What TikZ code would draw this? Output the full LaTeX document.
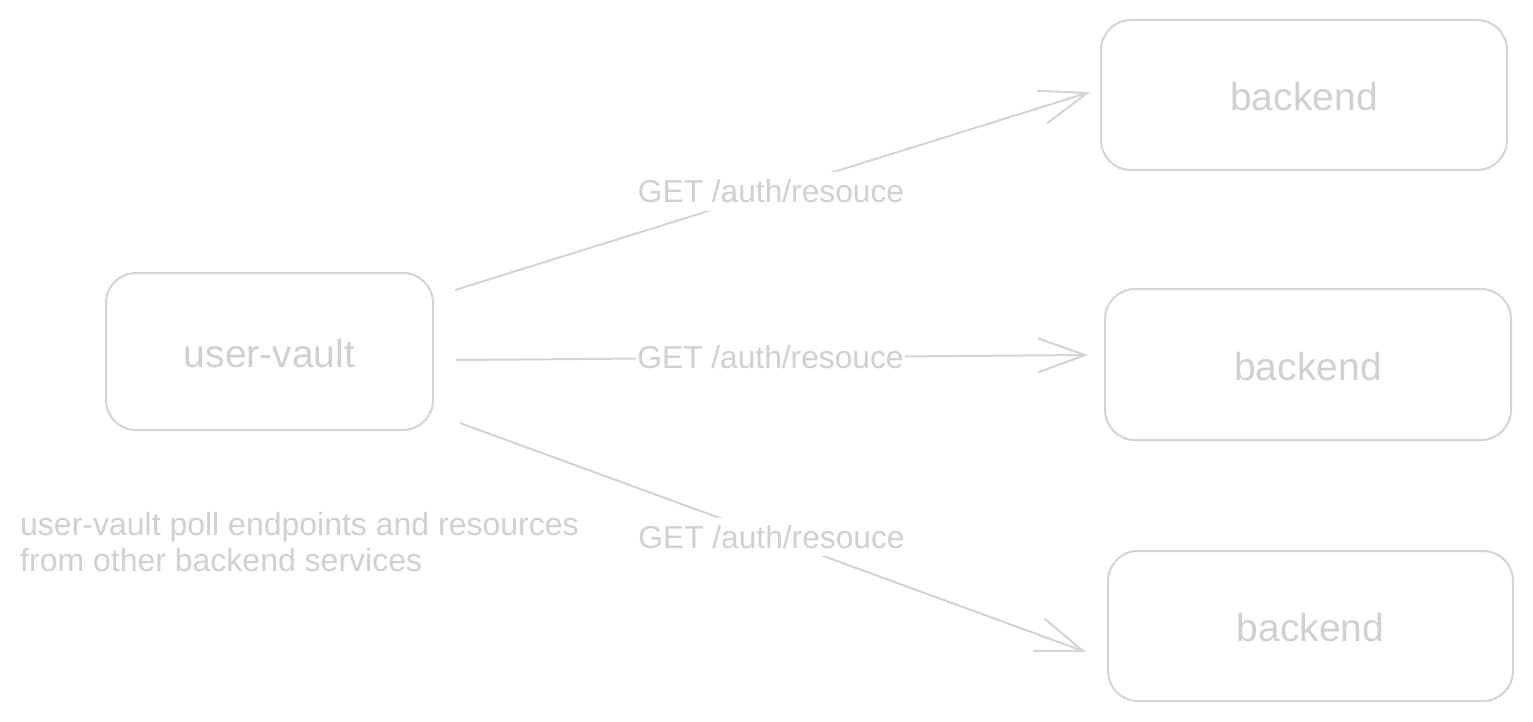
\documentclass[tikz,border=0pt]{standalone}
\usepackage{fontspec}
\setmainfont{Liberation Sans}
\usetikzlibrary{arrows.meta,calc}
\definecolor{lightline}{RGB}{212,212,212}
\definecolor{lighttext}{RGB}{208,208,208}
\newcommand{\lowtext}[1]{\raisebox{-2pt}[\height][\depth]{#1}}
\tikzset{
  box/.style={draw=lightline, line width=2pt, rounded corners=30pt, inner sep=0pt,
              text=lighttext, font=\fontsize{39}{44}\selectfont},
  conn/.style={draw=lightline, line width=2pt, shorten >=-3pt,
               -{Straight Barb[length=47pt,width=34pt,line width=2pt]}},
  lbl/.style={fill=white, inner xsep=1pt, inner ysep=7.5pt, text=lighttext, font=\fontsize{31.7}{36}\selectfont},
  note/.style={inner sep=0pt, text=lighttext, align=left, font=\fontsize{32}{36}\selectfont}
}
\begin{document}
\begin{tikzpicture}[x=1pt,y=-1pt]
\useasboundingbox[fill=white] (0,0) rectangle (1533,722);
\node[box, minimum width=327pt, minimum height=157pt] (uv) at (269.5,351.5) {\lowtext{user-vault}};
\node[box, minimum width=406pt, minimum height=150pt] (b1) at (1304,95) {\lowtext{backend}};
\node[box, minimum width=406pt, minimum height=151pt] (b2) at (1308,364.5) {\lowtext{backend}};
\node[box, minimum width=405pt, minimum height=150pt] (b3) at (1310.5,626) {\lowtext{backend}};
\draw[conn] ($(uv.east)+(21,-61.5)$) -- node[lbl]{GET /auth/resouce} ($(b1.west)+(-13,-2)$);
\draw[conn] ($(uv.east)+(22,8.5)$) -- node[lbl]{GET /auth/resouce} ($(b2.west)+(-19,-9.5)$);
\draw[conn] ($(uv.east)+(26,71.5)$) -- node[lbl]{GET /auth/resouce} ($(b3.west)+(-24,25)$);
\node[note, anchor=north west] (nt) at (20,512) {user-vault poll endpoints and resources\\from other backend services};
\end{tikzpicture}
\end{document}
